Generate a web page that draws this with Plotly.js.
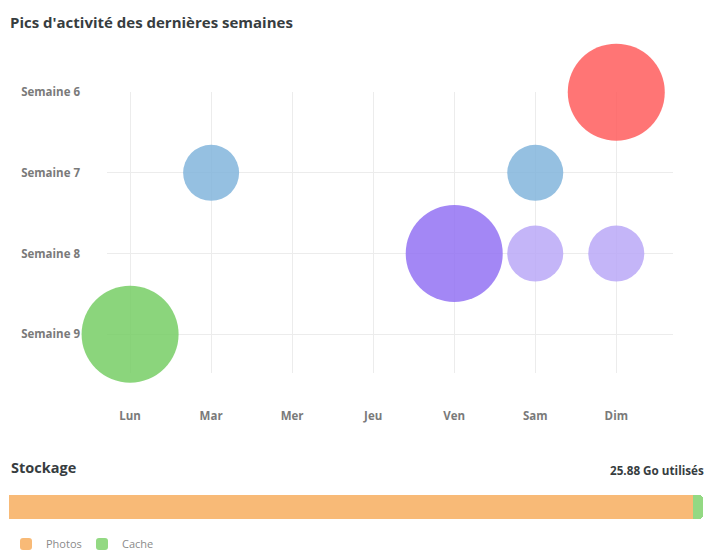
<!DOCTYPE html>
<html>
<head>
<meta charset="utf-8">
<script src="https://cdn.plot.ly/plotly-3.0.1.min.js"></script>
<style>
html,body{margin:0;padding:0;background:#fff;width:704px;height:553px;overflow:hidden;}
#chart{display:block;width:704px;height:553px;overflow:hidden;}
</style>
</head>
<body>
<div id="chart"></div>
<script>
// ---- Data ----
const days = ['Lun', 'Mar', 'Mer', 'Jeu', 'Ven', 'Sam', 'Dim'];
const weeks = ['Semaine 6', 'Semaine 7', 'Semaine 8', 'Semaine 9'];

const peakDays = ['Dim', 'Mar', 'Sam', 'Ven', 'Sam', 'Dim', 'Lun'];
const peakWeeks = ['Semaine 6', 'Semaine 7', 'Semaine 7', 'Semaine 8', 'Semaine 8', 'Semaine 8', 'Semaine 9'];
const peakActivity = [30, 10, 10, 30, 10, 10, 30];

const storageLabels = ['Photos', 'Cache'];
const storageValues = [25.50, 0.38];
const storageUnit = 'Go';

// ---- Styles ----
const peakColors = [
  'rgba(255,93,93,0.85)',
  'rgba(130,181,220,0.85)',
  'rgba(130,181,220,0.85)',
  'rgba(147,114,243,0.85)',
  'rgba(186,168,247,0.85)',
  'rgba(186,168,247,0.85)',
  'rgba(119,206,101,0.85)'
];
const storageColors = ['#F8BA77', '#93D983'];

const W = 704, H = 553;
const px = v => v / W;
const py = v => 1 - v / H;

const totalStorage = storageValues.reduce((a, b) => a + b, 0);

const traces = [{
  type: 'scatter',
  mode: 'markers',
  x: peakDays,
  y: peakWeeks,
  xaxis: 'x',
  yaxis: 'y',
  cliponaxis: false,
  showlegend: false,
  hoverinfo: 'x+y',
  marker: {
    size: peakActivity,
    sizemode: 'area',
    sizeref: 2 * 30 / (97 * 97),
    color: peakColors,
    opacity: 1,
    line: {width: 0}
  }
}];

storageLabels.forEach((lab, i) => {
  traces.push({
    type: 'bar',
    orientation: 'h',
    name: lab,
    x: [storageValues[i]],
    y: ['Stockage'],
    xaxis: 'x2',
    yaxis: 'y2',
    marker: {color: storageColors[i], line: {width: 0}},
    hoverinfo: 'name+x'
  });
});

const tickFont = {family: 'Open Sans', size: 11.5, weight: 'bold', color: '#7a7a7a'};

const layout = {
  width: W,
  height: H,
  autosize: false,
  margin: {l: 0, r: 0, t: 0, b: 0, pad: 0, autoexpand: false},
  paper_bgcolor: '#ffffff',
  plot_bgcolor: 'rgba(0,0,0,0)',
  font: {family: 'Open Sans', color: '#333'},
  title: {
    text: "Pics d'activité des dernières semaines",
    x: px(10), xanchor: 'left',
    y: py(23), yanchor: 'middle',
    font: {family: 'Open Sans', size: 15, weight: 'bold', color: '#373d3f'}
  },
  xaxis: {
    domain: [px(107), px(673)],
    type: 'category',
    categoryorder: 'array',
    categoryarray: days,
    tickvals: days,
    range: [-0.285, 6.70],
    showgrid: true,
    gridcolor: '#ececec',
    gridwidth: 1,
    zeroline: false,
    showline: false,
    ticks: '',
    ticklabelstandoff: 34,
    tickfont: tickFont,
    fixedrange: true
  },
  yaxis: {
    domain: [py(373), py(92)],
    type: 'category',
    categoryorder: 'array',
    categoryarray: weeks,
    tickvals: weeks,
    range: [3.48, -0.002],
    showgrid: true,
    gridcolor: '#ececec',
    gridwidth: 1,
    zeroline: false,
    showline: false,
    ticks: '',
    ticklabelstandoff: 26,
    tickfont: tickFont,
    fixedrange: true
  },
  xaxis2: {
    domain: [px(9), px(703)],
    anchor: 'y2',
    range: [0, totalStorage],
    showgrid: false, zeroline: false, showline: false,
    showticklabels: false, ticks: '', fixedrange: true
  },
  yaxis2: {
    domain: [py(519), py(495)],
    anchor: 'x2',
    type: 'category',
    range: [-0.5, 0.5],
    showgrid: false, zeroline: false, showline: false,
    showticklabels: false, ticks: '', fixedrange: true
  },
  barmode: 'stack',
  bargap: 0,
  barcornerradius: 4,
  showlegend: true,
  legend: {
    orientation: 'h',
    x: px(6), xanchor: 'left',
    y: py(544), yanchor: 'middle',
    font: {family: 'Open Sans', size: 11, color: '#8a8a8a'},
    bgcolor: 'rgba(0,0,0,0)',
    traceorder: 'normal',
    entrywidth: 31,
    entrywidthmode: 'pixels',
    itemclick: false,
    itemdoubleclick: false
  },
  annotations: [
    {
      text: 'Stockage',
      xref: 'paper', yref: 'paper',
      x: px(9), xanchor: 'left',
      y: py(467), yanchor: 'middle',
      showarrow: false,
      font: {family: 'Open Sans', size: 14.5, weight: 'bold', color: '#373d3f'}
    },
    {
      text: totalStorage.toFixed(2) + ' ' + storageUnit + ' utilisés',
      xref: 'paper', yref: 'paper',
      x: px(706), xanchor: 'right',
      y: py(470), yanchor: 'middle',
      showarrow: false,
      font: {family: 'Open Sans', size: 11.7, weight: 'bold', color: '#373d3f'}
    }
  ]
};

Plotly.newPlot('chart', traces, layout, {displayModeBar: false, responsive: false});
</script>
</body>
</html>
